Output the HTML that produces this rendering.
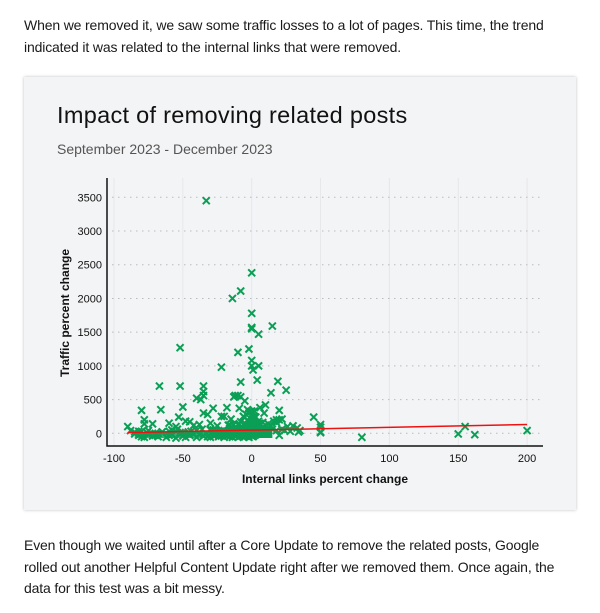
<!DOCTYPE html>
<html><head><meta charset="utf-8">
<style>
body{margin:0;width:600px;height:613px;background:#fff;font-family:"Liberation Sans",sans-serif;color:#1a1a1a;position:relative;overflow:hidden}
p{position:absolute;left:24px;margin:0;font-size:14px;letter-spacing:-0.15px;line-height:21.5px;width:565px;white-space:nowrap}
#card{position:absolute;left:24px;top:77px;width:552px;height:433px;background:#f3f4f6;box-shadow:0 0 3px rgba(0,0,0,.25)}
#title{position:absolute;left:33px;top:25px;font-size:23.5px;color:#111;letter-spacing:.3px}
#sub{position:absolute;left:33px;top:64px;font-size:14px;color:#555}
svg{position:absolute;left:0;top:0}
</style></head><body>
<p style="top:15px">When we removed it, we saw some traffic losses to a lot of pages. This time, the trend<br>indicated it was related to the internal links that were removed.</p>
<div id="card">
<div id="title">Impact of removing related posts</div>
<div id="sub">September 2023 - December 2023</div>
</div>
<svg id="chart" width="600" height="613"></svg>
<p style="top:535px">Even though we waited until after a Core Update to remove the related posts, Google<br>rolled out another Helpful Content Update right after we removed them. Once again, the<br>data for this test was a bit messy.</p>
<script>
const xTicks=[-100,-50,0,50,100,150,200];
const yTicks=[0,500,1000,1500,2000,2500,3000,3500];
const trendX=[-90,200];
const trendY=[10,130];
const ptsX=[-33,0,-8,-14,0,15,0,0,5,-52,-2,-10,0,1,-22,0,4,-8,5,19,-67,-52,-35,-35,14,25,-35,-40,-37,-12,-10,-13,-8,-5,10,-80,-66,-50,-48,-35,-32,-28,-22,-18,-15,-9,-6,-3,2,6,9,18,20,22,45,-90,-78,-78,-72,-60,-55,-53,-45,-42,-38,-30,-25,-20,-16,-12,-10,-8,-6,-4,-2,-1,0,1,2,3,4,6,8,10,12,14,16,18,20,22,24,26,30,33,35,50,50,50,80,150,155,162,200,-88,-85,-82,-80,-78,-75,-72,-70,-68,-65,-62,-60,-58,-55,-52,-50,-48,-45,-42,-40,-38,-35,-32,-30,-28,-26,-24,-22,-20,-18,-16,-14,-12,-10,-9,-8,-7,-6,-5,-4,-3,-2,-1,0,1,2,3,-20,-18,-16,-14,-12,-10,-8,-6,-4,-2,0,2,-19,-15,-11,-7,-3,1,-17,-13,-9,-5,-1,3,-85,-80,-75,-70,-65,-58,-50,-44,-36,-28,-82,-76,-68,-60,-54,-46,-40,-30,-24,-1,-1,0,0,0,-2,-3,1,2,5,8,12,15,18,28,34,-70,-55,-46,-30,-26,-20,-16,-4,0,20,50];
const ptsY=[3450,2380,2110,2000,1780,1590,1570,1550,1470,1270,1250,1200,1080,940,980,1000,790,760,1000,770,700,700,700,620,600,640,560,520,500,560,560,540,540,480,420,340,350,390,180,300,280,370,250,380,210,370,250,350,330,380,300,200,340,210,240,100,200,140,140,150,100,240,170,120,130,150,110,250,120,80,130,170,250,280,300,320,330,210,180,240,100,150,90,120,140,110,180,160,200,60,40,100,110,80,40,20,90,130,-60,-10,100,-20,40,40,-10,-30,-50,-60,-20,-40,-30,-50,20,-60,-30,-20,-70,10,-40,-60,-30,-10,-60,-20,-40,-50,-60,-30,-20,-50,-40,-60,-30,-50,-60,-40,-20,-50,-30,-40,-60,-50,-30,-40,-60,-20,-40,-50,-30,-20,0,10,20,30,40,50,60,70,80,90,100,60,-10,0,10,20,30,40,120,130,140,150,140,110,20,30,40,0,20,50,10,30,60,50,30,10,0,30,60,20,40,50,-20,10,40,30,0,150,170,200,220,250,180,160,90,60,40,30,20,-20,30,-10,60,50,40,70,60,90,-30,10,10,-10,110];
const X0=107,X1=543,Y0=446,Y1=178;
function sx(v){return 251.7+(v)*1.377;}
function sy(v){return 433.3-v*0.06743;}
const svg=document.getElementById('chart');const NS='http://www.w3.org/2000/svg';
function mk(t,a){const e=document.createElementNS(NS,t);for(const k in a)e.setAttribute(k,a[k]);svg.appendChild(e);return e;}
xTicks.forEach(v=>{
const g=mk('line',{x1:sx(v),x2:sx(v),y1:Y1,y2:Y0,stroke:'#e6e7ea','stroke-width':1});


const t=mk('text',{x:sx(v),y:462,'text-anchor':'middle','font-size':11,fill:'#111'});t.textContent=v;


});
yTicks.forEach(v=>{
const g=mk('line',{x1:X0+5,x2:X1,y1:sy(v),y2:sy(v),stroke:'#b8bbbf','stroke-width':1,'stroke-dasharray':'1.5,4.5'});


const t=mk('text',{x:102,y:sy(v)+4,'text-anchor':'end','font-size':11,fill:'#111'});t.textContent=v;


});
ptsX.forEach((xv,i)=>{
const cx=sx(xv),cy=sy(ptsY[i]),r=3.5;
const p=mk('path',{d:`M${cx-r},${cy-r}L${cx+r},${cy+r}M${cx-r},${cy+r}L${cx+r},${cy-r}`,stroke:'#0a9f55','stroke-width':2,fill:'none'});


});
const blob=mk('path',{d:`M${sx(-30)},${sy(-70)}L${sx(-30)},${sy(60)}L${sx(-5)},${sy(130)}L${sx(-1)},${sy(300)}L${sx(1)},${sy(300)}L${sx(4)},${sy(130)}L${sx(15)},${sy(60)}L${sx(15)},${sy(-70)}Z`,fill:'#0a9f55'});


const blob2=mk('path',{d:`M${sx(-85)},${sy(-70)}L${sx(-85)},${sy(10)}L${sx(-30)},${sy(30)}L${sx(-30)},${sy(-70)}Z`,fill:'#0a9f55','fill-opacity':0.8});


const tl=mk('line',{x1:sx(trendX[0]),y1:sy(trendY[0]),x2:sx(trendX[1]),y2:sy(trendY[1]),stroke:'#ee1111','stroke-width':1.5});


const ax=mk('path',{d:`M${X0},${Y1}L${X0},${Y0}L${X1},${Y0}`,stroke:'#111','stroke-width':1.5,fill:'none'});


const xt=mk('text',{x:325,y:483,'text-anchor':'middle','font-size':12,'font-weight':'bold',fill:'#111'});xt.textContent='Internal links percent change';


const yt=mk('text',{x:0,y:0,transform:'translate(69,313) rotate(-90)','text-anchor':'middle','font-size':12,'font-weight':'bold',fill:'#111'});yt.textContent='Traffic percent change';


</script>
</body></html>
